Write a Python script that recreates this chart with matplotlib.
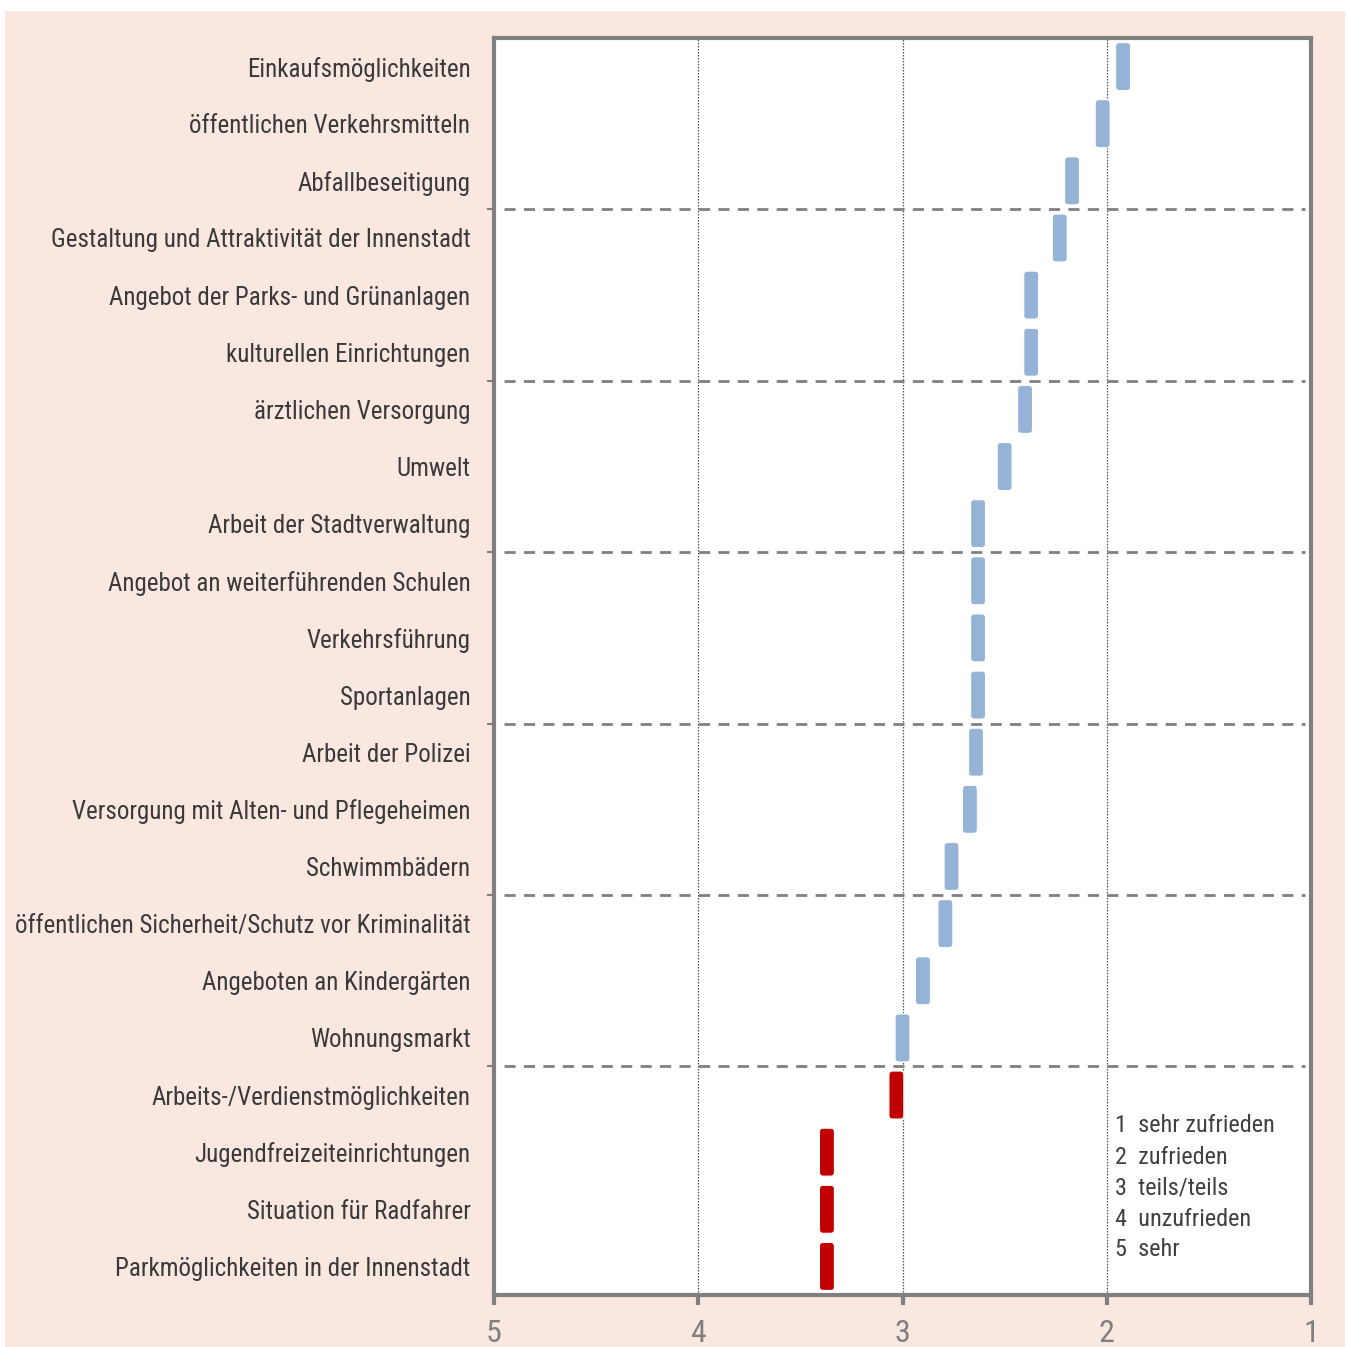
import matplotlib
matplotlib.use("Agg")
from matplotlib import pyplot as plt
from matplotlib import font_manager
from matplotlib.patches import FancyBboxPatch, Rectangle

# categories (top to bottom) and mean ratings
categories = [
    "Einkaufsmöglichkeiten",
    "öffentlichen Verkehrsmitteln",
    "Abfallbeseitigung",
    "Gestaltung und Attraktivität der Innenstadt",
    "Angebot der Parks- und Grünanlagen",
    "kulturellen Einrichtungen",
    "ärztlichen Versorgung",
    "Umwelt",
    "Arbeit der Stadtverwaltung",
    "Angebot an weiterführenden Schulen",
    "Verkehrsführung",
    "Sportanlagen",
    "Arbeit der Polizei",
    "Versorgung mit Alten- und Pflegeheimen",
    "Schwimmbädern",
    "öffentlichen Sicherheit/Schutz vor Kriminalität",
    "Angeboten an Kindergärten",
    "Wohnungsmarkt",
    "Arbeits-/Verdienstmöglichkeiten",
    "Jugendfreizeiteinrichtungen",
    "Situation für Radfahrer",
    "Parkmöglichkeiten in der Innenstadt",
]
values = [1.92, 2.02, 2.17, 2.23, 2.37, 2.37, 2.40, 2.50, 2.63, 2.63, 2.63,
          2.63, 2.64, 2.67, 2.76, 2.79, 2.90, 3.00, 3.03, 3.37, 3.37, 3.37]
x_ticks = [5, 4, 3, 2, 1]
legend_lines = ["1  sehr zufrieden", "2  zufrieden", "3  teils/teils",
                "4  unzufrieden", "5  sehr"]

BLUE = "#95b3d7"
RED = "#c00000"
GREY = "#808080"
PINK = "#f9e7e0"


def pick_font(candidates):
    names = {f.name for f in font_manager.fontManager.ttflist}
    for c in candidates:
        if c in names:
            return c
    return "DejaVu Sans"


font = pick_font(["Liberation Sans Narrow", "Roboto Condensed", "Open Sans Condensed",
                  "Noto Sans Condensed", "Liberation Sans"])
plt.rcParams["font.family"] = [font, "DejaVu Sans"]

fig = plt.figure(figsize=(13.48, 13.47), dpi=100, facecolor="white")
# pink panel behind the chart
fig.patches.append(Rectangle((5 / 1348, 0), 1340 / 1348, 1 - 11 / 1347,
                             transform=fig.transFigure, facecolor=PINK,
                             edgecolor="none", zorder=-10))

ax = fig.add_axes([494 / 1348, 1 - 1295 / 1347, 817 / 1348, 1257 / 1347])
ax.set_zorder(5)
ax.set_facecolor("white")

n = len(categories)
ax.set_xlim(5, 1)
ax.set_ylim(n - 0.5, -0.5)

# vertical dotted grid at 4, 3, 2
for xv in [4, 3, 2]:
    ax.axvline(xv, color="#555555", linestyle=(0, (1.2, 1.2)), linewidth=0.9, zorder=1)

# dashed separators every 3 categories
sep = [k + 2.5 for k in range(0, 18, 3)]
for yv in sep:
    ax.plot([4.95, 1.03], [yv, yv], color=GREY, linestyle=(0, (4, 3)),
            linewidth=2, zorder=1, solid_capstyle="butt")

# rounded markers
w = 0.073
h = 0.84
for i, v in enumerate(values):
    color = RED if v > 3.01 else BLUE
    box = FancyBboxPatch((v - w / 2, i - h / 2), w, h,
                         boxstyle="round,pad=0,rounding_size=0.018",
                         mutation_aspect=3.57,
                         facecolor=color, edgecolor="white", linewidth=0.8, zorder=3)
    ax.add_patch(box)

# axes styling
for s in ax.spines.values():
    s.set_color(GREY)
    s.set_linewidth(3)

ax.set_xticks(x_ticks)
ax.set_xticklabels([str(t) for t in x_ticks])
ax.tick_params(axis="x", direction="out", length=7, width=3, color=GREY,
               labelcolor="#7f7f7f", labelsize=23, pad=10)

ax.set_yticks(sep)
ax.set_yticklabels([])
ax.tick_params(axis="y", which="major", direction="out", length=5, width=1.5, color=GREY)
ax.set_yticks(range(n), minor=True)
ax.set_yticklabels(categories, minor=True)
ax.tick_params(axis="y", which="minor", length=0, pad=17, labelsize=18,
               labelcolor="#3a3a3a")

# scale legend as text
for k, line in enumerate(legend_lines):
    ax.text(1115 / 1348, 1 - (1126 + 31 * k) / 1347, line, transform=fig.transFigure,
            fontsize=17.5, color="#404040", va="center", ha="left")

fig.savefig("out.png", dpi=100, facecolor="white")
